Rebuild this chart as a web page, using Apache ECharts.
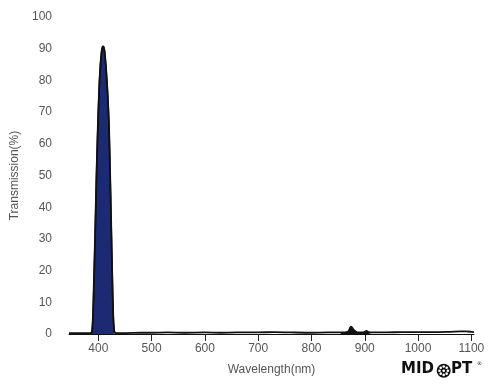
<!DOCTYPE html>
<html><head><meta charset="utf-8">
<script src="https://cdn.jsdelivr.net/npm/echarts@6/dist/echarts.min.js"></script>
<style>html,body{margin:0;padding:0;background:#fff}#c{width:500px;height:388px}</style>
</head><body><div id="c"></div>
<script>
// Wavelength (nm) and transmission (%)
var wavelengths = [345,360,375,385,388,390,392,394,396,398,400,402,404,406,407,408,409,410,411,412,414,416,418,420,422,424,426,428,430,433,450,480,500,530,560,600,630,660,700,730,760,800,830,855,866,870,872,874,876,878,880,883,888,895,900,903,907,915,940,970,1000,1030,1060,1080,1090,1100,1105];
var transmission = [0.3,0.3,0.3,0.3,0.6,6,18,31,46,59,70,79,85,88.8,89.9,90.5,90.7,90.5,89.9,88.8,85,80,74,66,52,36,20,6,0.8,0.3,0.3,0.4,0.4,0.5,0.4,0.5,0.4,0.5,0.5,0.6,0.5,0.4,0.5,0.5,0.6,1.0,1.8,2.3,2.1,1.6,1.2,0.8,0.5,0.5,0.7,1.0,0.6,0.5,0.5,0.6,0.6,0.6,0.7,0.8,0.8,0.7,0.6];
var xTicks = [400,500,600,700,800,900,1000,1100];
var yMin = 0, yMax = 100, yStep = 10;

var all = wavelengths.map(function(w,i){return [w, transmission[i]];});
var peak = all.filter(function(p){return p[0] >= 385 && p[0] <= 433;});
var bump = all.filter(function(p){return p[0] >= 855 && p[0] <= 915;});

var chart = echarts.init(document.getElementById('c'), null, {renderer:'canvas'});
var labelFont = {color:'#555', fontSize:12, fontFamily:'Liberation Sans, Arial, sans-serif'};

// logo dots
var dots = [];
for (var k=0;k<8;k++){
  var a = k*Math.PI/4;
  dots.push({type:'circle', shape:{cx:443.7+4.2*Math.cos(a), cy:370.7+4.2*Math.sin(a), r:1.3}, style:{fill:'#fff'}});
}
dots.push({type:'circle', shape:{cx:443.7, cy:370.7, r:1.3}, style:{fill:'#fff'}});

chart.setOption({
  animation:false,
  backgroundColor:'#fff',
  grid:{left:69, right:26, top:17, bottom:54, containLabel:false},
  xAxis:{
    type:'value', min:345, max:1105,
    name:'Wavelength(nm)', nameLocation:'middle', nameGap:30,
    nameTextStyle:labelFont,
    axisLine:{show:true, lineStyle:{color:'#111', width:1}},
    axisTick:{show:true, length:7, lineStyle:{color:'#222', width:1}, customValues:xTicks},
    axisLabel:Object.assign({margin:9, customValues:xTicks, formatter:function(v){return String(v);}}, labelFont),
    splitLine:{show:false}
  },
  yAxis:{
    type:'value', min:yMin, max:yMax, interval:yStep,
    name:'Transmission(%)', nameLocation:'middle', nameGap:36,
    nameTextStyle:labelFont,
    axisLine:{show:false}, axisTick:{show:false},
    axisLabel:Object.assign({margin:17}, labelFont),
    splitLine:{show:false}
  },
  series:[
    {type:'line', data:peak, symbol:'none', smooth:0.3, z:2,
     lineStyle:{color:'#111', width:1.5},
     areaStyle:{color:'#1b2a72', opacity:1}},
    {type:'line', data:bump, symbol:'none', smooth:0.3, z:2,
     lineStyle:{width:0},
     areaStyle:{color:'#111', opacity:1}},
    {type:'line', data:all, symbol:'none', smooth:0.3, z:3,
     lineStyle:{color:'#111', width:1.8}}
  ],
  graphic:[
    {type:'text', left:401, top:362, style:{text:'MID', fill:'#111', font:'bold 15px "DejaVu Sans", sans-serif'}},
    {type:'circle', shape:{cx:443.7, cy:370.7, r:7}, style:{fill:'#111'}},
  ].concat(dots).concat([
    {type:'text', left:451, top:362, style:{text:'PT', fill:'#111', font:'bold 15px "DejaVu Sans", sans-serif'}},
    {type:'text', left:477, top:361, style:{text:'®', fill:'#111', font:'5px "DejaVu Sans", sans-serif'}}
  ])
});
</script></body></html>
